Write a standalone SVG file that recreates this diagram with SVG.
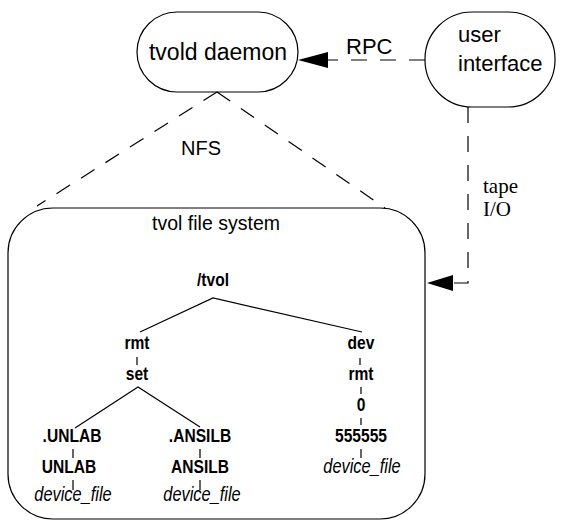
<svg xmlns="http://www.w3.org/2000/svg" width="582" height="521" viewBox="0 0 582 521">
<defs>
<style>
.shape{fill:none;stroke:#000;stroke-width:1.2}
.dash{fill:none;stroke:#000;stroke-width:1.2;stroke-dasharray:16 13}
.ln{fill:none;stroke:#000;stroke-width:1.2}
.big{font-family:"Liberation Sans",Arial,sans-serif;font-size:22px;fill:#000}
.ser{font-family:"Liberation Serif","Times New Roman",serif;font-size:21px;fill:#000}
.b{font-family:"Liberation Sans",Arial,sans-serif;font-size:19px;font-weight:bold;fill:#000;text-anchor:middle}
.i{font-family:"Liberation Sans",Arial,sans-serif;font-size:20px;font-style:italic;fill:#000;text-anchor:middle}
</style>
</defs>
<rect width="582" height="521" fill="#fff"/>
<g id="tvold-daemon">
<rect class="shape" x="137" y="12" width="161" height="80" rx="40" ry="40"/>
<text class="big" x="218" y="60" text-anchor="middle" style="font-size:23px">tvold daemon</text>
</g>
<g id="user-interface">
<rect class="shape" x="425" y="12" width="130" height="95" rx="47" ry="47"/>
<text class="big" x="458" y="42">user</text>
<text class="big" x="458" y="71">interface</text>
</g>
<g id="tvol-file-system">
<rect class="shape" x="8" y="208" width="417" height="311" rx="45" ry="45"/>
<text class="big" transform="translate(216,230) scale(0.93,1)" text-anchor="middle" style="font-size:21px">tvol file system</text>
</g>
<g id="tree">
<g class="ln">
<path d="M140,332 L213,298 L362,332"/>
<path d="M137,357 V365"/>
<path d="M75,428 L138,387 L200,427"/>
<path d="M73,449 V458 M73,480 V490"/>
<path d="M200,449 V458 M200,480 V490"/>
<path d="M360,358 V365 M361,387 V394 M361,418 V425 M361,449 V458"/>
</g>
<text class="b" transform="translate(213,286) scale(0.82,1)">/tvol</text>
<text class="b" transform="translate(137,349) scale(0.82,1)">rmt</text>
<text class="b" transform="translate(137,380) scale(0.82,1)">set</text>
<text class="b" transform="translate(361,349) scale(0.82,1)">dev</text>
<text class="b" transform="translate(361,380) scale(0.82,1)">rmt</text>
<text class="b" transform="translate(361,411) scale(0.82,1)">0</text>
<text class="b" transform="translate(361,442) scale(0.82,1)">555555</text>
<text class="i" transform="translate(362,473) scale(0.82,1)">device_file</text>
<text class="b" transform="translate(72,442) scale(0.82,1)">.UNLAB</text>
<text class="b" transform="translate(69,473) scale(0.82,1)">UNLAB</text>
<text class="i" transform="translate(73,501) scale(0.82,1)">device_file</text>
<text class="b" transform="translate(200,442) scale(0.82,1)">.ANSILB</text>
<text class="b" transform="translate(200,473) scale(0.82,1)">ANSILB</text>
<text class="i" transform="translate(202,501) scale(0.82,1)">device_file</text>
</g>
<g id="connectors">
<path class="dash" d="M425,60 H328"/>
<polygon points="298,60 328,52 328,68" fill="#000"/>
<text class="big" x="346" y="54">RPC</text>
<path class="dash" d="M217,92 L37,206"/>
<path class="dash" d="M217,92 L385,208"/>
<text class="big" x="201" y="155" text-anchor="middle" style="font-size:20px">NFS</text>
<path class="dash" d="M468,107 V283 H453"/>
<polygon points="427,283 453,275 453,291" fill="#000"/>
<text class="ser" x="483" y="193">tape</text>
<text class="ser" x="483" y="216">I/O</text>
</g>
</svg>
